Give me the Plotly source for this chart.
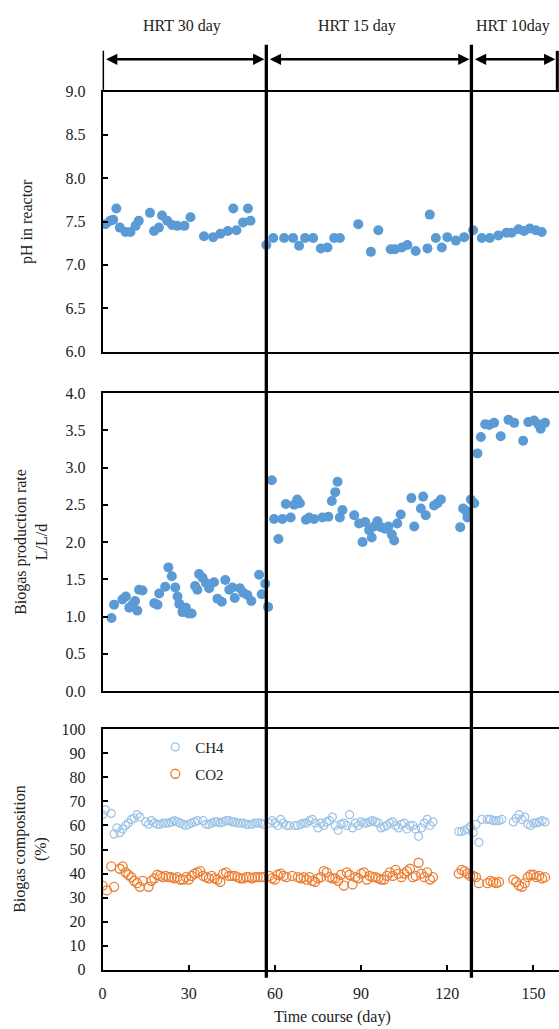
import plotly.graph_objects as go
from plotly.subplots import make_subplots

# -------------------------------------------------------
# Data
# -------------------------------------------------------
ph_day = [1.0, 2.7, 3.7, 4.8, 6.0, 8.0, 9.7, 11.5, 12.6, 16.5, 17.9, 19.6, 20.7, 22.5, 24.2, 26.0,
          28.5, 30.6, 35.3, 38.5, 41.0, 43.6, 45.5, 46.6, 48.9, 50.6, 51.5, 57.0, 59.4, 63.2, 66.3,
          68.4, 70.5, 73.3, 76.0, 78.3, 80.6, 82.6, 89.0, 93.4, 96.0, 100.3, 101.8, 104.2, 106.1,
          109.0, 113.1, 113.9, 116.0, 118.1, 120.0, 123.0, 125.9, 129.0, 132.0, 134.8, 137.8,
          140.6, 142.4, 144.8, 146.7, 148.7, 150.8, 152.9]
ph = [7.47, 7.51, 7.52, 7.65, 7.43, 7.38, 7.38, 7.45, 7.51, 7.60, 7.39, 7.43, 7.57, 7.51, 7.46, 7.45,
      7.45, 7.55, 7.33, 7.32, 7.36, 7.39, 7.65, 7.40, 7.49, 7.65, 7.51, 7.23, 7.31, 7.31, 7.31,
      7.22, 7.31, 7.31, 7.19, 7.20, 7.31, 7.31, 7.47, 7.15, 7.40, 7.18, 7.18, 7.20, 7.23,
      7.16, 7.19, 7.58, 7.31, 7.20, 7.32, 7.28, 7.32, 7.40, 7.31, 7.31, 7.34,
      7.37, 7.37, 7.41, 7.39, 7.42, 7.40, 7.38]

bio_day = [3.1, 4.0, 6.9, 8.1, 9.3, 10.4, 11.3, 12.1, 12.7, 13.9, 18.0, 19.1, 19.7, 21.8, 22.9, 24.1,
           25.3, 26.1, 26.7, 27.8, 29.0, 29.9, 31.0, 32.2, 33.0, 33.6, 34.8, 36.0, 37.1, 38.8, 40.0,
           41.5, 42.7, 44.1, 45.2, 46.0, 47.8, 49.0, 50.4, 51.8, 54.5, 55.4, 56.6, 57.6, 58.9, 59.7,
           61.2, 62.6, 63.8, 65.5, 66.7, 67.8, 68.7, 70.8, 71.9, 73.6, 76.5, 78.6, 79.8, 81.0, 81.8,
           82.6, 83.5, 87.6, 89.3, 90.5, 91.4, 92.8, 93.7, 94.5, 95.7, 96.9, 98.4, 99.5, 100.7,
           101.5, 102.6, 103.8, 107.5, 108.5, 110.8, 111.6, 112.5, 115.4, 116.6, 117.8, 124.5,
           125.5, 126.5, 127.0, 128.2, 129.4, 130.5, 131.7, 133.2, 134.6, 136.3, 138.6, 141.3,
           143.3, 146.4, 148.2, 150.2, 151.7, 152.5, 154.0]
bio_rate = [0.98, 1.16, 1.23, 1.27, 1.12, 1.16, 1.21, 1.08, 1.36, 1.35, 1.18, 1.16, 1.31, 1.40, 1.66, 1.54,
            1.39, 1.27, 1.17, 1.06, 1.12, 1.04, 1.04, 1.41, 1.36, 1.57, 1.52, 1.45, 1.38, 1.46, 1.24,
            1.20, 1.49, 1.36, 1.39, 1.25, 1.38, 1.32, 1.29, 1.21, 1.56, 1.30, 1.44, 1.13, 2.83, 2.31,
            2.04, 2.31, 2.51, 2.33, 2.50, 2.57, 2.52, 2.30, 2.33, 2.31, 2.33, 2.34, 2.55, 2.67, 2.81,
            2.33, 2.43, 2.36, 2.25, 2.00, 2.27, 2.16, 2.06, 2.21, 2.28, 2.20, 2.18, 2.21, 2.10,
            2.02, 2.25, 2.37, 2.59, 2.21, 2.45, 2.61, 2.36, 2.49, 2.52, 2.57, 2.20,
            2.45, 2.42, 2.33, 2.57, 2.52, 3.19, 3.41, 3.58, 3.57, 3.60, 3.42, 3.64,
            3.60, 3.36, 3.61, 3.63, 3.58, 3.52, 3.60]

ch4_day = [0, 1, 3, 4, 5, 6, 7, 8, 9, 10, 11, 12, 13, 15, 16, 17, 18, 19, 20, 21, 22, 23, 24, 25, 26,
           27, 28, 29, 30, 31, 32, 33, 35, 36, 37, 38, 39, 40, 41, 42, 43, 44, 45, 46, 47, 48, 49, 50,
           51, 52, 53, 54, 55, 56,
           58, 59, 60, 61, 62, 63, 64, 65, 67, 68, 69, 70, 71, 72, 73, 74, 75, 76, 77, 78, 79, 80, 81,
           82, 83, 84, 85, 86, 87, 88, 89, 90, 91, 92, 93, 94, 95, 96, 97, 98, 99, 100, 101, 102, 103,
           104, 105, 106, 107, 108, 109, 110, 111, 112, 113, 114, 115,
           124, 125, 126, 127, 128, 129, 130, 131, 132, 134, 135, 136, 137, 138, 139,
           143, 144, 145, 146, 147, 148, 149, 150, 151, 152, 153, 154]
ch4 = [64.5, 66.5, 65.0, 56.5, 59.0, 57.0, 58.5, 60.0, 61.0, 62.5, 63.0, 64.5, 63.5, 61.5, 60.5, 62.0,
       61.0, 60.5, 60.5, 61.0, 61.0, 61.0, 61.5, 62.0, 61.5, 61.0, 60.5, 60.0, 60.5, 61.0, 61.5, 62.0,
       62.0, 60.5, 60.5, 61.0, 61.5, 61.5, 61.0, 61.5, 62.0, 62.0, 61.5, 61.5, 61.0, 61.0, 61.0,
       60.5, 60.5, 60.5, 61.0, 61.0, 61.0, 60.5,
       61.0, 62.0, 61.0, 60.0, 62.5, 61.0, 60.0, 60.0, 60.0, 60.0, 60.5, 61.0, 61.0, 62.0, 62.5,
       61.0, 59.0, 61.0, 60.0, 61.5, 62.0, 63.5, 60.0, 58.0, 60.5, 61.0, 60.0, 64.5, 59.0, 61.0,
       60.0, 61.5, 61.0, 61.0, 61.5, 62.0, 61.5, 61.0, 59.0, 59.5, 60.0, 61.0, 61.5, 60.0, 59.0,
       60.5, 61.0, 58.5, 60.0, 60.0, 58.5, 55.5, 59.0, 61.0, 62.5, 60.0, 61.5,
       57.5, 57.5, 58.0, 58.5, 59.5, 57.0, 60.5, 53.0, 62.5, 62.5, 62.5, 62.0, 62.0, 62.0, 62.5,
       61.5, 63.0, 64.5, 62.5, 63.5, 60.5, 60.0, 61.0, 61.0, 61.5, 62.0, 61.5]

co2_day = [0, 1.5, 3, 4, 6, 7, 8, 9, 10, 11, 12, 13, 14, 16, 17, 18, 19, 20, 21, 22, 23, 24, 25, 26,
           27, 28, 29, 30, 31, 32, 33, 34, 35, 36, 37, 38, 39, 40, 41, 42, 43, 44, 45, 46, 47, 48, 49,
           50, 51, 52, 53, 54, 55, 56,
           58, 59, 60, 61, 62, 63, 64, 66, 68, 69, 70, 71, 72, 73, 74, 75, 76, 77, 78, 79, 80, 81, 82,
           83, 84, 85, 86, 87, 88, 89, 90, 91, 92, 93, 94, 95, 96, 97, 98, 99, 100, 101, 102, 103, 104,
           105, 106, 107, 108, 109, 110, 111, 112, 113, 114, 115,
           124, 125, 126, 127, 128, 129, 130, 131, 134, 135, 136, 137, 138,
           143, 144, 145, 146, 147, 148, 149, 150, 151, 152, 153, 154]
co2 = [35.0, 33.0, 43.0, 34.5, 42.0, 43.0, 40.5, 39.5, 38.5, 37.0, 36.0, 34.5, 37.0, 34.5, 37.0, 38.0,
       39.5, 39.0, 38.5, 39.0, 38.5, 38.5, 38.0, 38.5, 37.5, 37.5, 38.5, 37.5, 39.0, 40.0, 40.5, 41.0,
       39.0, 38.5, 38.0, 39.0, 38.0, 37.5, 36.5, 40.0, 40.5, 39.0, 39.0, 39.0, 38.5, 38.0, 38.0,
       38.5, 38.5, 38.0, 38.5, 38.5, 38.5, 38.5,
       39.0, 38.0, 37.5, 39.5, 40.0, 39.0, 38.5, 39.0, 38.5, 38.0, 38.5, 37.5, 38.5, 37.0, 36.5,
       38.0, 38.5, 41.0, 40.5, 38.5, 38.0, 38.0, 37.0, 39.5, 35.0, 40.5, 39.5, 35.5, 38.5, 38.0,
       40.0, 40.5, 37.5, 39.0, 38.5, 38.5, 38.0, 37.5, 37.5, 39.0, 40.5, 39.0, 41.5, 40.0, 38.5,
       40.0, 41.0, 42.0, 38.5, 39.0, 44.5, 40.0, 38.5, 40.5, 37.5, 38.5,
       40.0, 41.5, 41.0, 40.0, 39.0, 39.0, 38.5, 36.0, 36.0, 37.0, 36.5, 36.0, 36.5,
       37.5, 36.5, 35.0, 34.5, 36.0, 38.5, 39.5, 39.5, 38.5, 39.0, 38.0, 38.5]

# HRT periods: boundaries (day) and header labels
hrt_bounds = [0, 57, 128.4, 158.3]
hrt_labels = ["HRT 30 day", "HRT 15 day", "HRT 10day"]
hrt_label_day = [27.7, 88.6, 143.0]

x_ticks = [0, 30, 60, 90, 120, 150]

# -------------------------------------------------------
# Figure
# -------------------------------------------------------
W, H = 559, 1029
FONT = "Liberation Serif"
BLUE = "#5B9BD5"
TXT = "#222"


# target pixel positions (measured on the reference) -> paper coords,
# with a small correction for the offset seen in the rendered page
def px_(t):
    return (t - 4.7) / 0.993 / W


def py(t):
    return 1 - (t - 6.9) / 0.99 / H


fig = make_subplots(rows=3, cols=1)

fig.add_trace(go.Scatter(x=ph_day, y=ph, mode="markers", showlegend=False,
                         marker=dict(size=10, color=BLUE)), row=1, col=1)
fig.add_trace(go.Scatter(x=bio_day, y=bio_rate, mode="markers", showlegend=False,
                         marker=dict(size=10, color=BLUE)), row=2, col=1)
fig.add_trace(go.Scatter(x=ch4_day, y=ch4, mode="markers", name="CH4", legend="legend",
                         marker=dict(size=8, symbol="circle-open", color="#9DC3E6",
                                     line=dict(width=1.2))), row=3, col=1)
fig.add_trace(go.Scatter(x=co2_day, y=co2, mode="markers", name="CO2", legend="legend2",
                         marker=dict(size=9, symbol="circle-open", color="#ED7D31",
                                     line=dict(width=1.3))), row=3, col=1)

x0 = px_(103.3)
x_dom = [x0, 1]
x_range = [0, (1 - x0) * W / (2.873 / 0.993)]
y_doms = [[py(352.7), py(91)], [py(694.5), py(394.5)], [py(975), py(733)]]
y_ranges = [[6, 9], [0, 4], [0, 100]]
y_dticks = [0.5, 0.5, 10]
y_fmt = [".1f", ".1f", "d"]
tick_font = dict(family=FONT, size=16, color=TXT)

for i in range(3):
    last = i == 2
    fig.update_xaxes(row=i + 1, col=1, domain=x_dom, range=x_range, showgrid=False, zeroline=False,
                     showline=True, mirror=True, linecolor="black", linewidth=2,
                     ticks="inside" if last else "", ticklen=5, tickwidth=1.5, tickcolor="black",
                     tickvals=x_ticks if last else [], showticklabels=last,
                     ticklabelstandoff=8, tickfont=tick_font)
    fig.update_yaxes(row=i + 1, col=1, domain=y_doms[i], range=y_ranges[i], dtick=y_dticks[i],
                     tickformat=y_fmt[i], showgrid=False, zeroline=False,
                     showline=True, linecolor="black", linewidth=2,
                     ticks="inside", ticklen=5, tickwidth=1.5, tickcolor="black",
                     ticklabelstandoff=12, tickfont=tick_font)

# period divider lines
shapes = []
for d in hrt_bounds[1:3]:
    shapes.append(dict(type="line", xref="x3", yref="paper", x0=d, x1=d, y0=py(983), y1=py(44),
                       line=dict(color="black", width=3.3)))
for d in (hrt_bounds[0], hrt_bounds[3]):
    shapes.append(dict(type="line", xref="x3", yref="paper", x0=d, x1=d, y0=py(91), y1=py(50),
                       line=dict(color="black", width=3)))

annotations = []
for a, b in zip(hrt_bounds[:-1], hrt_bounds[1:]):
    annotations.append(dict(xref="x3", yref="paper", axref="x3", ayref="pixel",
                            x=b, y=py(58.5), ax=a, ay=0, text="", showarrow=True,
                            arrowside="end+start", arrowhead=2, arrowsize=0.9, arrowwidth=2.5,
                            arrowcolor="black", standoff=2, startstandoff=2))
for lab, d in zip(hrt_labels, hrt_label_day):
    annotations.append(dict(xref="x3", yref="paper", x=d, y=py(25), text=lab, showarrow=False,
                            xanchor="center", yanchor="middle",
                            font=dict(family=FONT, size=16, color=TXT)))

# axis titles
title_font = dict(family=FONT, size=16, color=TXT)
axis_titles = [
    (27, 222, "pH in reactor"),
    (31, 544, "Biogas production rate<br>L/L/d"),
    (31, 853, "Biogas composition<br>(%)"),
]
for tx, ty, t in axis_titles:
    annotations.append(dict(xref="paper", yref="paper", x=px_(tx), y=py(ty), text=t,
                            textangle=-90, showarrow=False, xanchor="center", yanchor="middle",
                            font=title_font))
annotations.append(dict(xref="paper", yref="paper", x=px_(333), y=py(1023),
                        text="Time course (day)", showarrow=False,
                        xanchor="center", yanchor="middle", font=title_font))

legend_style = dict(font=dict(family=FONT, size=15, color=TXT), bgcolor="rgba(0,0,0,0)",
                    xanchor="left", yanchor="middle", borderwidth=0)

fig.update_layout(
    width=W, height=H,
    margin=dict(l=0, r=0, t=0, b=0),
    font=dict(family=FONT, color=TXT),
    plot_bgcolor="white", paper_bgcolor="white",
    shapes=shapes, annotations=annotations,
    legend=dict(x=px_(156), y=py(751), **legend_style),
    legend2=dict(x=px_(156), y=py(778), **legend_style),
)

# no page margin / scrollbars so the figure sits exactly in the window
page_fix = ("document.documentElement.style.margin='0';"
            "document.body.style.margin='0';"
            "document.documentElement.style.overflow='hidden';"
            "document.body.style.overflow='hidden';")
fig.write_html("out.html", config={"displayModeBar": False}, post_script=page_fix)
